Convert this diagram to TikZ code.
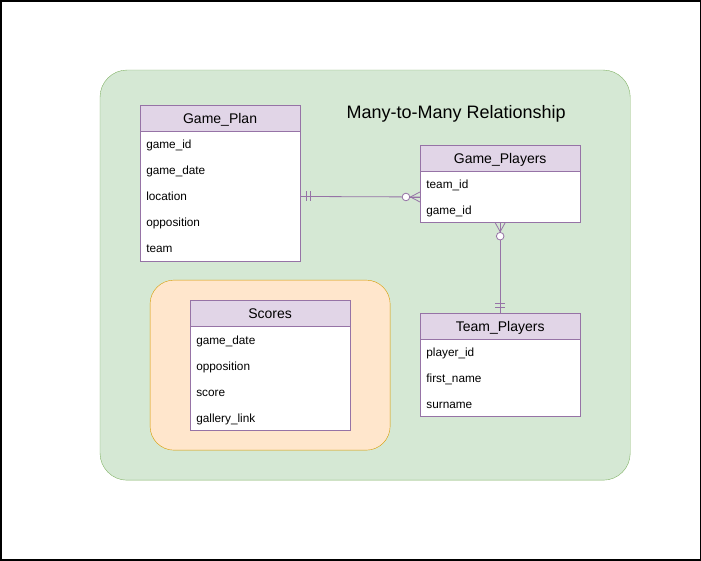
\documentclass[tikz,border=0pt]{standalone}
\usepackage{fontspec}
\setmainfont{Liberation Sans}
\usetikzlibrary{positioning,calc}

\definecolor{grpfill}{HTML}{D5E8D4}
\definecolor{grpline}{HTML}{82B366}
\definecolor{subfill}{HTML}{FFE6CC}
\definecolor{subline}{HTML}{D79B00}
\definecolor{tabfill}{HTML}{E1D5E7}
\definecolor{tabline}{HTML}{9673A6}

\begin{document}
\begin{tikzpicture}[x=1pt,y=-1pt]
  \tikzset{header/.style = {shape=rectangle,draw=tabline,fill=tabfill,minimum width=160pt,minimum height=26pt,inner sep=0pt,font=\fontsize{14}{16}\selectfont}}
  \tikzset{headtext/.style = {inner sep=0pt,text height=11pt,text depth=0pt,font=\fontsize{14}{16}\selectfont}}
  \tikzset{tabbody/.style = {shape=rectangle,draw=tabline,fill=white,minimum width=160pt,inner sep=0pt}}
  \tikzset{field/.style = {anchor=west,inner sep=0pt,text height=8.8pt,text depth=0pt,font=\fontsize{11.8}{13}\selectfont}}
  \tikzset{rel/.style = {draw=tabline,line width=0.8pt}}

  % page and groups
  \draw[line width=1.5pt] (0.75,0.75) rectangle (700,560);
  \draw[grpline,fill=grpfill,rounded corners=27pt] (100,70) rectangle (630,480);
  \draw[subline,fill=subfill,rounded corners=24pt] (150,280) rectangle (390,450);
  \node[font=\fontsize{18}{20}\selectfont] (title) at (456,114) {Many-to-Many Relationship};

  % tables
	\node[header] (plan) at (220,118) {};
	\node[headtext] at (plan) {Game\_Plan};
	\node[tabbody,minimum height=130pt,below=0pt of plan] (planbody) {};
    \foreach \y/\t in {144/game\_id,170/game\_date,196/location,222/opposition,248/team}
    \node[field] at (146,\y) {\t};

	\node[header] (players) at (500,158) {};
	\node[headtext] at (players) {Game\_Players};
	\node[tabbody,minimum height=51pt,below=0pt of players] (playersbody) {};
    \foreach \y/\t in {184/team\_id,210/game\_id}
    \node[field] at (426,\y) {\t};

	\node[header] (scores) at (270,313) {};
	\node[headtext] at (scores) {Scores};
	\node[tabbody,minimum height=104pt,below=0pt of scores] (scoresbody) {};
    \foreach \y/\t in {340/game\_date,366/opposition,392/score,418/gallery\_link}
    \node[field] at (196,\y) {\t};

	\node[header] (team) at (500,326) {};
	\node[headtext] at (team) {Team\_Players};
	\node[tabbody,minimum height=77pt,below=0pt of team] (teambody) {};
    \foreach \y/\t in {352/player\_id,378/first\_name,404/surname}
    \node[field] at (426,\y) {\t};

  % relationships
    \path[rel] (planbody.east) -- (playersbody.west);
    \path[rel] (playersbody.south) -- (team.north);
    % one (mandatory) ends
    \foreach \d in {6,10}
    \path[rel] ($(planbody.east)+(\d,-5)$) -- ($(planbody.east)+(\d,5)$);
    \foreach \d in {-10,-6}
    \path[rel] ($(team.north)+(-5,\d)$) -- ($(team.north)+(5,\d)$);
    % zero-or-many ends
    \path[rel,fill=white] ($(playersbody.west)+(-14,0)$) circle (3.8pt);
    \foreach \d in {-5,0,5}
    \path[rel] ($(playersbody.west)+(-9.5,0)$) -- ($(playersbody.west)+(0,\d)$);
    \path[rel,fill=white] ($(playersbody.south)+(0,13.5)$) circle (3.8pt);
    \foreach \d in {-5,0,5}
    \path[rel] ($(playersbody.south)+(0,9)$) -- ($(playersbody.south)+(\d,0)$);
\end{tikzpicture}
\end{document}
